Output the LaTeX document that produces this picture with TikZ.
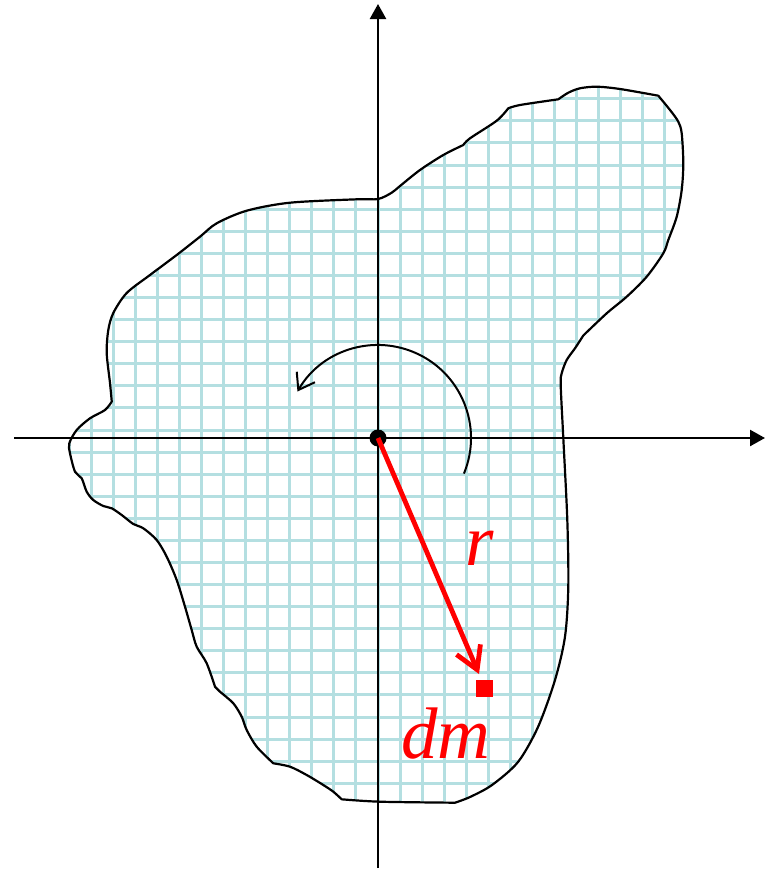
\documentclass[tikz,border=0pt]{standalone}
\usepackage{fontspec}
\setmainfont{Liberation Serif}
\usetikzlibrary{arrows.meta,calc}
\definecolor{gridteal}{RGB}{180,223,225}
\tikzset{
  outline/.style={draw=black, line width=2.2pt, line join=round},
  gridline/.style={draw=gridteal, line width=3pt},
  axisline/.style={draw=black, line width=2.4pt, -{Triangle[length=15pt,width=16pt]}},
  turnarrow/.style={draw=black, line width=2pt, -{Straight Barb[length=15pt,width=21pt]}},
  radiusarrow/.style={draw=red, line width=4.8pt, -{Straight Barb[length=22pt,width=26pt]}},
  redlabel/.style={text=red, font=\fontsize{73}{80}\selectfont\itshape, inner sep=0pt, anchor=base west},
}
\begin{document}
\begin{tikzpicture}[x=1pt,y=-1pt]
\useasboundingbox (0,0) rectangle (770,870);
\def\blob{
 plot[smooth] coordinates {(111.7,401) (110,383) (106.7,353) (108.3,330) (113.3,313) (126.7,293) (150,275) (176.7,255) (200,236.7) (216.7,223.3) (246.7,210.7) (290,202.7) (356.7,199.3) (378,199) (391.7,192.7) (400,186) (420,170) (443.3,155) (463.3,145)}
 -- plot[smooth] coordinates {(463.3,145) (470,138.3) (496.7,120.7) (508.3,108.3)}
 -- plot[smooth] coordinates {(508.3,108.3) (520,105) (558.3,99.3)}
 -- plot[smooth] coordinates {(558.3,99.3) (568.3,92.7) (580,88.3) (596.7,86.7) (620,89) (658.3,95.7)}
 -- plot[smooth] coordinates {(658.3,95.7) (670,110) (678.3,121.7) (681.7,133.3) (683.3,163.3) (681.7,190) (676.7,216.7) (668.3,240) (663.3,253.3) (646.7,276.7) (626.7,296.7) (606.7,313.3) (583.3,335.5)}
 -- plot[smooth] coordinates {(583.3,335.5) (575,348.3) (566.7,360) (561.7,373.3) (560.7,385) (563.3,438) (567.3,520) (568.3,586.7) (565,636.7) (555,680) (538,727) (518,762) (492,785) (470,797) (455,802.7)}
 -- plot[smooth] coordinates {(455,802.7) (380,801.7) (341.7,799.3)}
 -- plot[smooth] coordinates {(341.7,799.3) (333.3,791.7) (323.3,785) (306.7,775) (290,766.7) (273.3,763.3)}
 -- plot[smooth] coordinates {(273.3,763.3) (256.7,746.7) (246.7,730) (241.7,716.7) (233.3,703.3) (220,691.7) (215,686.7)}
 -- plot[smooth] coordinates {(215,686.7) (206.7,663.3) (196.7,646.7) (191.7,630) (185,606.7) (176.7,580) (166.7,556.7) (156.7,540) (143.3,528.3) (133.3,524) (121.7,515) (111.7,508.3) (103.3,506) (93.3,500) (86.7,491.7) (81.7,478.3) (75,471.7) (70,453.3) (69.3,443.3) (76.7,430) (90,418.3) (105,410) (111.7,401.7)}
 -- cycle
}
% grid inside the body
\begin{scope}
  \clip \blob;
  \foreach \k in {-14,...,15} {
    \draw[gridline] ({378+22.05*\k},60) -- ({378+22.05*\k},830);
  }
  \foreach \k in {-16,...,17} {
    \draw[gridline] (40,{430+22.08*\k}) -- (720,{430+22.08*\k});
  }
\end{scope}
\draw[outline] \blob;
% axes
\coordinate (O) at (378,438);
\coordinate (xl) at (14,438);
\coordinate (xr) at (765,438);
\coordinate (yb) at (378,868);
\coordinate (yt) at (378,4);
\draw[axisline] (xl) -- (xr);
\draw[axisline] (yb) -- (yt);
% rotation arrow
\coordinate (arcstart) at ($(O)+(22.5:93)$);
\draw[turnarrow] (arcstart) arc[start angle=22.5, end angle=-150, radius=93];
% origin dot
\fill[black] (O) circle (8.5);
% radius vector and mass element
\coordinate (tip) at (479,674);
\draw[radiusarrow] (O) -- (tip);
\node[fill=red, minimum size=17pt, inner sep=0pt] (dm) at (484.5,688.5) {};
\node[redlabel] (rlab) at (465,565) {r};
\node[redlabel] (dmlab) at (401,758) {dm};
\end{tikzpicture}
\end{document}
